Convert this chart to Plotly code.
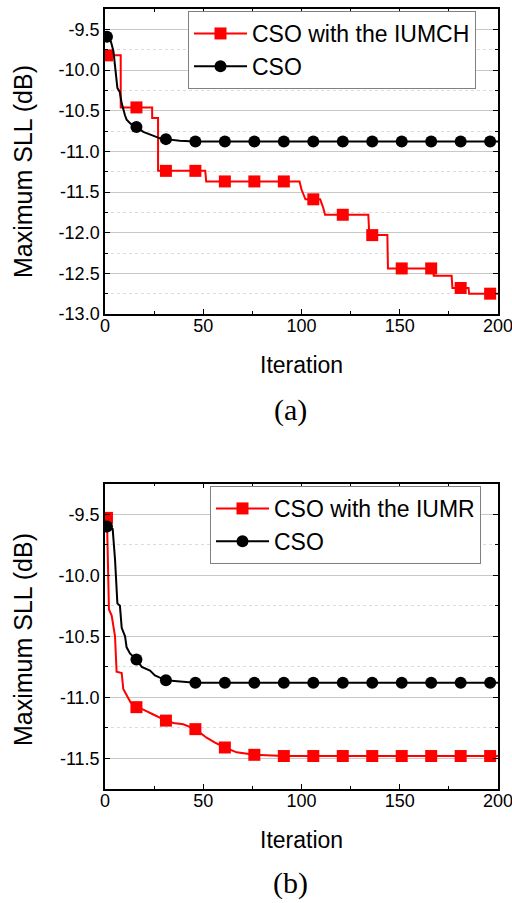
import plotly.graph_objects as go

# ---------------- data ----------------
# Panel (a)
a_iumch_iter = [1, 8, 8, 16, 24, 24, 27, 27, 31, 46, 51, 51.5, 61, 76, 91, 99, 100, 102, 106,
                109.5, 111, 112, 121, 134, 134.5, 136, 143.7, 144, 151, 166, 167, 167.3, 176.4,
                176.8, 181, 185, 185.3, 196, 200]
a_iumch_sll = [-9.82, -9.82, -10.46, -10.46, -10.46, -10.59, -10.59, -11.24, -11.24, -11.24,
               -11.24, -11.37, -11.37, -11.37, -11.37, -11.37, -11.47, -11.59, -11.59, -11.59,
               -11.69, -11.78, -11.78, -11.78, -12.03, -12.03, -12.03, -12.44, -12.44, -12.44,
               -12.44, -12.53, -12.53, -12.68, -12.68, -12.68, -12.75, -12.75, -12.75]
a_cso_iter = [1, 3, 4.3, 6.3, 7.5, 8.5, 10.2, 11, 13, 16, 19.5, 23.8, 25, 28, 31, 38, 46, 61, 76,
              91, 106, 121, 136, 151, 166, 181, 196, 200]
a_cso_sll = [-9.59, -9.65, -9.77, -10.22, -10.27, -10.41, -10.56, -10.61, -10.66, -10.70, -10.76,
             -10.80, -10.82, -10.84, -10.85, -10.87, -10.88, -10.88, -10.88, -10.88, -10.88,
             -10.88, -10.88, -10.88, -10.88, -10.88, -10.88, -10.88]

# Panel (b)
b_iumr_iter = [1, 2, 3.4, 5.1, 5.9, 8.5, 9.3, 11, 13, 16, 19.5, 24.6, 31, 34.8, 39.8, 46, 51.7,
               56, 61, 67, 76, 91, 106, 121, 136, 151, 166, 181, 196, 200]
b_iumr_sll = [-9.53, -10.28, -10.33, -10.50, -10.79, -10.80, -10.93, -10.98, -11.04, -11.08,
              -11.10, -11.14, -11.19, -11.21, -11.22, -11.26, -11.33, -11.37, -11.41, -11.45,
              -11.47, -11.48, -11.48, -11.48, -11.48, -11.48, -11.48, -11.48, -11.48, -11.48]
b_cso_iter = [1, 3.9, 5.1, 6.3, 7.6, 8.5, 10.2, 11, 12.7, 16, 18.7, 22.9, 25.4, 31, 38.2, 46, 61,
              76, 91, 106, 121, 136, 151, 166, 181, 196, 200]
b_cso_sll = [-9.60, -9.62, -9.87, -10.23, -10.25, -10.43, -10.50, -10.59, -10.64, -10.69, -10.75,
             -10.78, -10.82, -10.86, -10.87, -10.88, -10.88, -10.88, -10.88, -10.88, -10.88,
             -10.88, -10.88, -10.88, -10.88, -10.88, -10.88]

marker_iters = [1, 16, 31, 46, 61, 76, 91, 106, 121, 136, 151, 166, 181, 196]

a_yticks = [-13.0, -12.5, -12.0, -11.5, -11.0, -10.5, -10.0, -9.5]
b_yticks = [-11.5, -11.0, -10.5, -10.0, -9.5]
x_ticks = [0, 50, 100, 150, 200]

names_a = ["CSO with the IUMCH", "CSO"]
names_b = ["CSO with the IUMR", "CSO"]

# ---------------- figure ----------------
W, H = 512, 903
FONT = "Liberation Sans, Arial, sans-serif"
RED, BLACK = "#ff0000", "#000000"

fig = go.Figure()


def sel(xs):
    # indices of the points that carry a marker
    seen, out = set(), []
    for i, v in enumerate(xs):
        if v in marker_iters and v not in seen:
            seen.add(v)
            out.append(i)
    return out


def add(xs, ys, name, color, symbol, xa, ya, legend):
    fig.add_trace(go.Scatter(
        x=xs, y=ys, name=name, mode="lines+markers",
        xaxis=xa, yaxis=ya, legend=legend,
        line=dict(color=color, width=2),
        marker=dict(color=color, symbol=symbol, size=12, line=dict(width=0)),
        selectedpoints=sel(xs),
        selected=dict(marker=dict(opacity=1)),
        unselected=dict(marker=dict(opacity=0)),
        hoverinfo="skip",
    ))


add(a_iumch_iter, a_iumch_sll, names_a[0], RED, "square", "x", "y", "legend")
add(a_cso_iter, a_cso_sll, names_a[1], BLACK, "circle", "x", "y", "legend")
add(b_iumr_iter, b_iumr_sll, names_b[0], RED, "square", "x2", "y2", "legend2")
add(b_cso_iter, b_cso_sll, names_b[1], BLACK, "circle", "x2", "y2", "legend2")

xdom = [105 / W, 498 / W]


def px_y(p):
    return 1 - p / H


xcommon = dict(
    range=[0, 200], tickvals=x_ticks, ticktext=[str(v) for v in x_ticks],
    ticks="inside", ticklen=5, tickwidth=1.2, tickcolor="black",
    showline=True, linecolor="black", linewidth=1.5, mirror="ticks",
    showgrid=False, zeroline=False, ticklabeloverflow="allow", automargin=False,
    ticklabelstandoff=-5,
    tickfont=dict(family=FONT, size=18, color="black"),
    minor=dict(dtick=25, tick0=0, ticks="inside", ticklen=3, tickcolor="black", showgrid=False),
    domain=xdom,
)


def ycommon(rng, ticks):
    return dict(
        range=rng, tickvals=ticks, ticktext=["%.1f" % v for v in ticks],
        ticks="inside", ticklen=5, tickwidth=1.2, tickcolor="black",
        showline=True, linecolor="black", linewidth=1.5, mirror="ticks",
        showgrid=True, gridcolor="#c8c8c8", gridwidth=1, zeroline=False, automargin=False,
        tickfont=dict(family=FONT, size=18, color="black"),
        minor=dict(dtick=0.25, tick0=-13, ticks="inside", ticklen=3, tickcolor="black",
                   showgrid=True, gridcolor="#dcdcdc", griddash="dot", gridwidth=1),
    )


fig.update_layout(
    width=W, height=H,
    margin=dict(l=0, r=0, t=0, b=0, autoexpand=False),
    paper_bgcolor="white", plot_bgcolor="white",
    showlegend=True,
    xaxis=dict(**xcommon, anchor="y"),
    yaxis=dict(**ycommon([-13.0, -9.25], a_yticks), anchor="x", domain=[px_y(314), px_y(9)]),
    xaxis2=dict(**xcommon, anchor="y2"),
    yaxis2=dict(**ycommon([-11.75, -9.25], b_yticks), anchor="x2",
                domain=[px_y(789), px_y(483.7)]),
    legend=dict(x=188 / W, y=px_y(11), xanchor="left", yanchor="top",
                font=dict(family=FONT, size=23, color="black"),
                bordercolor="#808080", borderwidth=1, bgcolor="white",
                itemwidth=53, tracegroupgap=0),
    legend2=dict(x=210 / W, y=px_y(486), xanchor="left", yanchor="top",
                 font=dict(family=FONT, size=23, color="black"),
                 bordercolor="#808080", borderwidth=1, bgcolor="white",
                 itemwidth=53, tracegroupgap=0),
)

# axis titles and panel labels
ann = [
    dict(text="Maximum SLL (dB)", x=23 / W, y=px_y(172), textangle=-90,
         font=dict(family=FONT, size=25, color="black")),
    dict(text="Maximum SLL (dB)", x=23 / W, y=px_y(640), textangle=-90,
         font=dict(family=FONT, size=25, color="black")),
    dict(text="Iteration", x=301 / W, y=px_y(365),
         font=dict(family=FONT, size=23, color="black")),
    dict(text="Iteration", x=301 / W, y=px_y(840),
         font=dict(family=FONT, size=23, color="black")),
    dict(text="(a)", x=290 / W, y=px_y(410),
         font=dict(family="Liberation Serif, Times New Roman, serif", size=30, color="black")),
    dict(text="(b)", x=290 / W, y=px_y(883),
         font=dict(family="Liberation Serif, Times New Roman, serif", size=30, color="black")),
]
for a in ann:
    fig.add_annotation(xref="paper", yref="paper", showarrow=False,
                       xanchor="center", yanchor="middle", **a)

fig.write_html("out.html")
